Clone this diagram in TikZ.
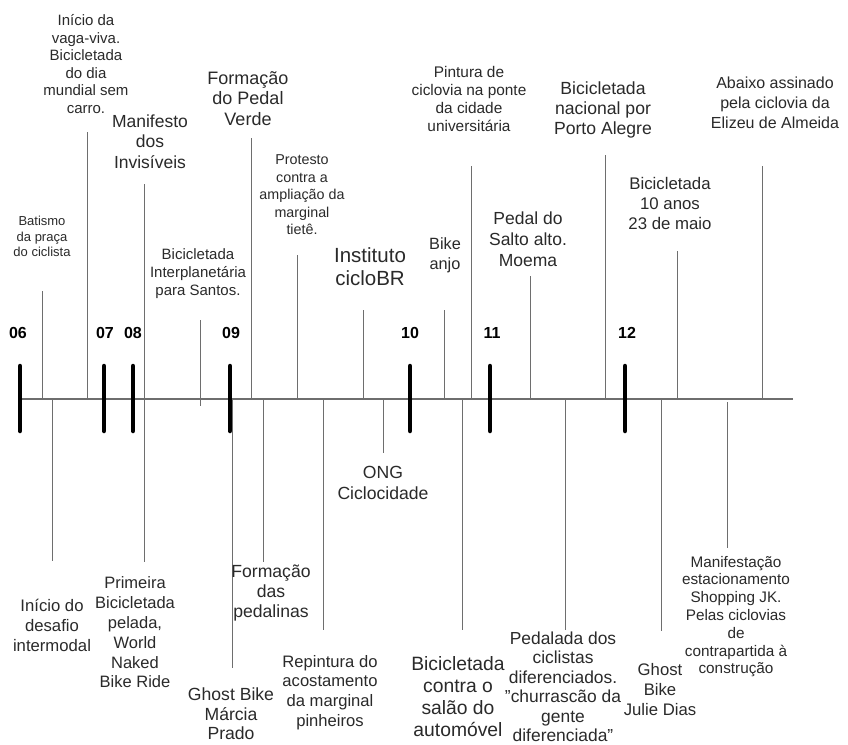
\documentclass[tikz,border=0pt]{standalone}
\usepackage{fontspec}
\setmainfont{Liberation Sans}
\definecolor{txtgray}{HTML}{2A2A2A}
\definecolor{linegray}{HTML}{6E6E6E}
\tikzset{
  lbl/.style={align=center, inner sep=0pt, text=txtgray},
  conn/.style={draw=linegray, line width=1pt},
  axisline/.style={draw=linegray, line width=1.3pt},
  yeartick/.style={draw=black, line width=4.5pt, line cap=round},
  yearlbl/.style={inner sep=0pt, text=black, font={\fontsize{16}{18}\selectfont\bfseries}},
}
\newcommand{\fs}[2]{\fontsize{#1}{#2}\selectfont}
\begin{document}
\begin{tikzpicture}[x=1pt,y=-1pt]
\useasboundingbox[fill=white] (0,0) rectangle (848,744);

% axis
\coordinate (axL) at (18,399);
\coordinate (axR) at (793,399);
\draw[axisline] (axL) -- (axR);

% ---------- upper events ----------
\node[lbl, font=\fs{13}{15.5}] (t1) at (42,236.5) {Batismo\\da praça\\do ciclista};
\coordinate (t1a) at (42,291); \coordinate (t1b) at (42,399);
\draw[conn] (t1a) -- (t1b);

\node[lbl, font=\fs{15}{17.6}] (t2) at (86,64) {Início da\\vaga-viva.\\Bicicletada\\do dia\\mundial sem\\carro.};
\coordinate (t2a) at (87,132); \coordinate (t2b) at (87,399);
\draw[conn] (t2a) -- (t2b);

\node[lbl, font=\fs{17.5}{20.5}] (t3) at (150,141.5) {Manifesto\\dos\\Invisíveis};
\coordinate (t3a) at (144,184); \coordinate (t3b) at (144,398);
\draw[conn] (t3a) -- (t3b);

\node[lbl, font=\fs{15}{18}] (t4) at (198,274) {Bicicletada\\Interplanetária\\para Santos.};
\coordinate (t4a) at (200.5,320); \coordinate (t4b) at (200.5,406);
\draw[conn] (t4a) -- (t4b);

\node[lbl, font=\fs{18}{20.5}] (t5) at (248,98.5) {Formação\\do Pedal\\Verde};
\coordinate (t5a) at (251,138); \coordinate (t5b) at (251,399);
\draw[conn] (t5a) -- (t5b);

\node[lbl, font=\fs{14.3}{17.5}] (t6) at (302,195) {Protesto\\contra a\\ampliação da\\marginal\\tietê.};
\coordinate (t6a) at (297,255); \coordinate (t6b) at (297,399);
\draw[conn] (t6a) -- (t6b);

\node[lbl, font=\fs{20.5}{23}] (t7) at (370,266.5) {Instituto\\cicloBR};
\coordinate (t7a) at (363,310); \coordinate (t7b) at (363,399);
\draw[conn] (t7a) -- (t7b);

\node[lbl, font=\fs{16.3}{20}] (t8) at (445,255) {Bike\\anjo};
\coordinate (t8a) at (444,310); \coordinate (t8b) at (444,399);
\draw[conn] (t8a) -- (t8b);

\node[lbl, font=\fs{15.4}{18}] (t9) at (469,99) {Pintura de\\ciclovia na ponte\\da cidade\\universitária};
\coordinate (t9a) at (471,166); \coordinate (t9b) at (471,399);
\draw[conn] (t9a) -- (t9b);

\node[lbl, font=\fs{17.5}{21}] (t10) at (528,239) {Pedal do\\Salto alto.\\Moema};
\coordinate (t10a) at (530,276); \coordinate (t10b) at (530,399);
\draw[conn] (t10a) -- (t10b);

\node[lbl, font=\fs{17.6}{20}] (t11) at (603,110) {Bicicletada\\nacional por\\Porto Alegre};
\coordinate (t11a) at (605,155); \coordinate (t11b) at (605,399);
\draw[conn] (t11a) -- (t11b);

\node[lbl, font=\fs{16.8}{20}] (t12) at (670,203) {Bicicletada\\10 anos\\23 de maio};
\coordinate (t12a) at (677,251); \coordinate (t12b) at (677,399);
\draw[conn] (t12a) -- (t12b);

\node[lbl, font=\fs{16}{20}] (t13) at (775,103) {Abaixo assinado\\pela ciclovia da\\Elizeu de Almeida};
\coordinate (t13a) at (762,166); \coordinate (t13b) at (762,399);
\draw[conn] (t13a) -- (t13b);

% ---------- lower events ----------
\node[lbl, font=\fs{16.7}{20}] (b1) at (52,625) {Início do\\desafio\\intermodal};
\coordinate (b1a) at (52,399); \coordinate (b1b) at (52,561);
\draw[conn] (b1a) -- (b1b);

\node[lbl, font=\fs{16.5}{19.8}] (b2) at (135,632.5) {Primeira\\Bicicletada\\pelada,\\World\\Naked\\Bike Ride};
\coordinate (b2a) at (144,399); \coordinate (b2b) at (144,562);
\draw[conn] (b2a) -- (b2b);

\node[lbl, font=\fs{17.6}{19.5}] (b3) at (231,714) {Ghost Bike\\Márcia\\Prado};
\coordinate (b3a) at (232,399); \coordinate (b3b) at (232,668);
\draw[conn] (b3a) -- (b3b);

\node[lbl, font=\fs{17.6}{20}] (b4) at (271,593) {Formação\\das\\pedalinas};
\coordinate (b4a) at (263,399); \coordinate (b4b) at (263,562);
\draw[conn] (b4a) -- (b4b);

\node[lbl, font=\fs{16.6}{19.7}] (b5) at (330,692.5) {Repintura do\\acostamento\\da marginal\\pinheiros};
\coordinate (b5a) at (323,399); \coordinate (b5b) at (323,630);
\draw[conn] (b5a) -- (b5b);

\node[lbl, font=\fs{17.6}{21}] (b6) at (383,482.5) {ONG\\Ciclocidade};
\coordinate (b6a) at (383,399); \coordinate (b6b) at (383,453);
\draw[conn] (b6a) -- (b6b);

\node[lbl, font=\fs{19.3}{22}] (b7) at (458,697) {Bicicletada\\contra o\\salão do\\automóvel};
\coordinate (b7a) at (462,399); \coordinate (b7b) at (462,630);
\draw[conn] (b7a) -- (b7b);

\node[lbl, font=\fs{17.4}{19.5}] (b8) at (563,687) {Pedalada dos\\ciclistas\\diferenciados.\\\symbol{34}churrascão da\\gente\\diferenciada\symbol{34}};
\coordinate (b8a) at (565,399); \coordinate (b8b) at (565,630);
\draw[conn] (b8a) -- (b8b);

\node[lbl, font=\fs{16.7}{20}] (b9) at (660,690) {Ghost\\Bike\\Julie Dias};
\coordinate (b9a) at (661,399); \coordinate (b9b) at (661,631);
\draw[conn] (b9a) -- (b9b);

\node[lbl, font=\fs{15.3}{17.8}] (b10) at (736,616.5) {Manifestação\\estacionamento\\Shopping JK.\\Pelas ciclovias\\de\\contrapartida à\\construção};
\coordinate (b10a) at (727,402); \coordinate (b10b) at (727,548);
\draw[conn] (b10a) -- (b10b);

% ---------- years ----------
\foreach \nm/\tx/\lx/\yr in {y06/20/18/06, y07/104/105/07, y08/133/133/08, y09/230/231/09, y10/410/410/10, y11/490/492/11, y12/625/627/12}{
  \node[yearlbl] (\nm) at (\lx,333) {\yr};
  \coordinate (\nm a) at (\tx,366);
  \coordinate (\nm b) at (\tx,431);
  \draw[yeartick] (\nm a) -- (\nm b);
}
\end{tikzpicture}
\end{document}
